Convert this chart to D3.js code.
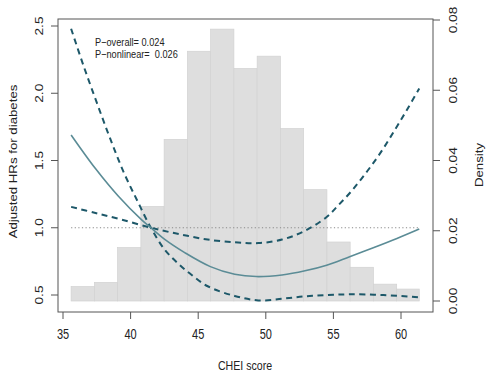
<!DOCTYPE html>
<html>
<head>
<meta charset="utf-8">
<script src="https://cdn.jsdelivr.net/npm/d3@7"></script>
<style>
  html, body { margin: 0; padding: 0; background: #fff; }
  svg { display: block; }
  text { font-family: "Liberation Sans", Arial, Helvetica, sans-serif; fill: #222; white-space: pre; }
</style>
</head>
<body>
<svg id="chart" width="491" height="381"></svg>
<script>
// ---------------- data ----------------
const xTicks = [35, 40, 45, 50, 55, 60];
const hrTicks = [0.5, 1.0, 1.5, 2.0, 2.5];
const densTicks = [0.00, 0.02, 0.04, 0.06, 0.08];

// histogram bin edges (CHEI score) and densities
const binEdges = [35.6, 37.32, 39.04, 40.76, 42.48, 44.2, 45.92, 47.64, 49.36, 51.08, 52.8, 54.52, 56.24, 57.96, 59.68, 61.35];
const densities = [0.0041, 0.0053, 0.0152, 0.0269, 0.046, 0.0711, 0.0774, 0.0662, 0.0697, 0.0491, 0.0317, 0.0168, 0.0096, 0.0048, 0.0034];

// spline curves
const hrX = [35.6, 37.4, 39.1, 40.8, 41.5, 42.5, 44.0, 45.9, 47.7, 49.3, 51.2, 52.9, 54.5, 56.2, 58.0, 59.7, 61.35];
const hrY = [1.69, 1.44, 1.234, 1.06, 1.0, 0.915, 0.815, 0.711, 0.654, 0.637, 0.649, 0.68, 0.722, 0.785, 0.853, 0.92, 0.99];

const ciAX = [35.6, 36.5, 37.5, 38.5, 39.5, 40.5, 41.5, 42.5, 43.5, 44.5, 45.7, 47.7, 49.45, 51.2, 52.85, 54.5, 56.2, 58.7, 61.35];
const ciAY = [2.48, 2.21, 1.93, 1.66, 1.41, 1.2, 1.0, 0.84, 0.735, 0.65, 0.565, 0.493, 0.46, 0.472, 0.49, 0.5, 0.505, 0.5, 0.483];

const ciBX = [35.6, 37.4, 39.35, 41.5, 43.0, 44.2, 45.7, 47.7, 49.45, 51.2, 52.85, 54.5, 55.3, 56.4, 57.5, 58.5, 59.5, 60.4, 61.35];
const ciBY = [1.155, 1.11, 1.06, 1.0, 0.965, 0.94, 0.912, 0.892, 0.886, 0.912, 0.975, 1.08, 1.16, 1.28, 1.42, 1.56, 1.72, 1.87, 2.035];

const refRange = [35.6, 61.35];
const refHR = 1.0;

const pText1 = "P\u2212overall= 0.024";
const pText2 = "P\u2212nonlinear=  0.026";
const xTitle = "CHEI score";
const yTitle = "Adjusted HRs for diabetes";
const y2Title = "Density";

// ---------------- layout ----------------
const svg = d3.select("#chart");
const box = { left: 58, right: 433, top: 19, bottom: 312 };

const x = d3.scaleLinear().domain([35, 60]).range([63, 401]);
const y = d3.scaleLinear().domain([0.5, 2.5]).range([295, 26]);
const y2 = d3.scaleLinear().domain([0, 0.08]).range([301, 20]);

const SY = 1.25; // vertical stretch of glyphs

// histogram
const bins = densities.map((d, i) => ({ x0: binEdges[i], x1: binEdges[i + 1], d }));
svg.append("g").selectAll("rect").data(bins).join("rect")
  .attr("x", b => x(b.x0))
  .attr("width", b => x(b.x1) - x(b.x0))
  .attr("y", b => y2(b.d))
  .attr("height", b => y2(0) - y2(b.d))
  .attr("fill", "#dedede")
  .attr("stroke", "#d2d2d2")
  .attr("stroke-width", 0.7);

// reference line
svg.append("line")
  .attr("x1", x(refRange[0])).attr("x2", x(refRange[1]))
  .attr("y1", y(refHR)).attr("y2", y(refHR))
  .attr("stroke", "#8a8a8a").attr("stroke-width", 1)
  .attr("stroke-dasharray", "1.2,2.4");

const line = d3.line().x(d => x(d[0])).y(d => y(d[1])).curve(d3.curveCatmullRom.alpha(0.5));
const zip = (a, b) => a.map((v, i) => [v, b[i]]);

svg.append("path").attr("d", line(zip(ciAX, ciAY)))
  .attr("fill", "none").attr("stroke", "#1d5869").attr("stroke-width", 2)
  .attr("stroke-dasharray", "6,4.5");
svg.append("path").attr("d", line(zip(ciBX, ciBY)))
  .attr("fill", "none").attr("stroke", "#1d5869").attr("stroke-width", 2)
  .attr("stroke-dasharray", "6,4.5");
svg.append("path").attr("d", line(zip(hrX, hrY)))
  .attr("fill", "none").attr("stroke", "#5b8c96").attr("stroke-width", 1.6);

// box
svg.append("rect")
  .attr("x", box.left).attr("y", box.top)
  .attr("width", box.right - box.left).attr("height", box.bottom - box.top)
  .attr("fill", "none").attr("stroke", "#555").attr("stroke-width", 1);

// x axis ticks
const gx = svg.append("g");
gx.selectAll("line").data(xTicks).join("line")
  .attr("x1", d => x(d)).attr("x2", d => x(d))
  .attr("y1", box.bottom).attr("y2", box.bottom + 7)
  .attr("stroke", "#555");
gx.selectAll("text").data(xTicks).join("text")
  .attr("transform", d => `translate(${x(d)},339) scale(1,${SY})`)
  .attr("text-anchor", "middle").attr("font-size", 11)
  .text(d => d);

// left y axis
const gy = svg.append("g");
gy.selectAll("line").data(hrTicks).join("line")
  .attr("x1", box.left - 7).attr("x2", box.left)
  .attr("y1", d => y(d)).attr("y2", d => y(d))
  .attr("stroke", "#555");
gy.selectAll("text").data(hrTicks).join("text")
  .attr("transform", d => `translate(43.3,${y(d)}) rotate(-90) scale(${SY},1)`)
  .attr("text-anchor", "middle").attr("font-size", 11)
  .text(d => d.toFixed(1));

// right y axis
const gy2 = svg.append("g");
gy2.selectAll("line").data(densTicks).join("line")
  .attr("x1", box.right).attr("x2", box.right + 7)
  .attr("y1", d => y2(d)).attr("y2", d => y2(d))
  .attr("stroke", "#555");
gy2.selectAll("text").data(densTicks).join("text")
  .attr("transform", d => `translate(456.7,${y2(d)}) rotate(-90) scale(${SY},1)`)
  .attr("text-anchor", "middle").attr("font-size", 11)
  .text(d => d.toFixed(2));

// titles
svg.append("text")
  .attr("transform", `translate(245,370) scale(1,${SY})`)
  .attr("text-anchor", "middle").attr("font-size", 10.6)
  .text(xTitle);
svg.append("text")
  .attr("transform", `translate(16.5,161.5) rotate(-90) scale(${SY},1)`)
  .attr("text-anchor", "middle").attr("font-size", 10.6)
  .text(yTitle);
svg.append("text")
  .attr("transform", `translate(483,165) rotate(-90) scale(${SY},1)`)
  .attr("text-anchor", "middle").attr("font-size", 10.6)
  .text(y2Title);

// p-values
svg.append("text")
  .attr("transform", `translate(95,46) scale(1,${SY})`)
  .attr("font-size", 9.2).text(pText1);
svg.append("text")
  .attr("transform", `translate(95,57.5) scale(1,${SY})`)
  .attr("font-size", 9.2).text(pText2);
</script>
</body>
</html>
